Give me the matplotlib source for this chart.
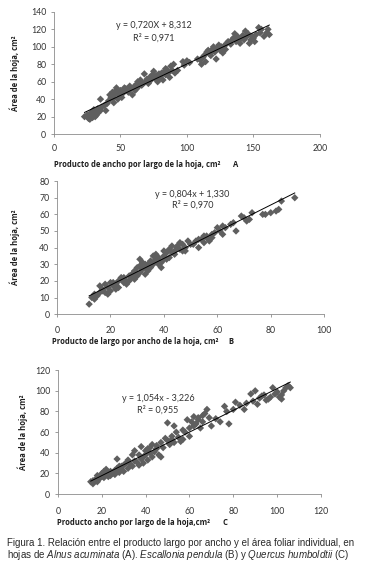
import matplotlib
matplotlib.use("Agg")
import matplotlib.pyplot as plt
import numpy as np

plt.rcParams['font.family'] = ['Lato', 'DejaVu Sans']
plt.rcParams['mathtext.fontset'] = 'custom'
plt.rcParams['mathtext.rm'] = 'Liberation Sans'
plt.rcParams['mathtext.it'] = 'Liberation Sans:italic'

# Panel A - Alnus acuminata
a_x = [23, 25, 26, 27, 28, 28, 29, 30, 30, 31, 32, 33, 33, 35, 35, 36, 38, 39, 40, 41,
       42, 43, 44, 45, 45, 46, 47, 48, 48, 50, 50, 51, 52, 53, 54, 55, 56, 57, 58, 59,
       60, 61, 62, 63, 64, 65, 66, 67, 68, 69, 70, 71, 72, 73, 74, 75, 76, 77, 78, 79,
       80, 81, 82, 83, 84, 85, 86, 87, 88, 89, 90, 91, 93, 97, 98, 100, 102, 108, 110, 111,
       112, 113, 114, 115, 116, 117, 118, 119, 120, 121, 122, 123, 124, 125, 126, 127, 128, 129, 130, 131,
       133, 135, 136, 137, 138, 139, 140, 141, 142, 143, 144, 145, 146, 147, 148, 149, 150, 151, 152, 154,
       155, 156, 158, 160, 161, 162, 29, 31, 44, 62, 79, 84, 118, 134]
a_y = [20, 22, 18, 17, 25, 21, 19, 23, 28, 26, 22, 24, 29, 27, 40, 31, 33, 27, 35, 38,
       45, 42, 48, 36, 44, 49, 53, 40, 46, 45, 50, 42, 47, 53, 52, 50, 48, 55, 52, 45,
       54, 50, 57, 60, 55, 62, 56, 58, 69, 60, 63, 58, 65, 62, 68, 72, 64, 67, 60, 69,
       66, 70, 62, 72, 68, 74, 70, 65, 78, 73, 80, 70, 73, 83, 79, 84, 82, 86, 85, 80,
       88, 90, 83, 94, 96, 92, 90, 97, 100, 94, 86, 98, 102, 96, 100, 93, 101, 97, 104, 106,
       103, 110, 115, 106, 112, 108, 104, 110, 113, 108, 118, 112, 115, 104, 108, 112, 110, 106, 114, 122,
       116, 120, 112, 116, 120, 114, 24, 20, 41, 52, 64, 75, 95, 108]
a_eq = "y = 0,720X + 8,312"
a_r2 = "R² = 0,971"
a_coef = (0.720, 8.312)

# Panel B - Escallonia pendula
b_x = [12, 13, 14, 14, 15, 16, 16, 17, 18, 18, 19, 19, 20, 20, 21, 22, 22, 23, 23, 24,
       25, 25, 26, 27, 27, 28, 28, 29, 29, 30, 30, 31, 31, 32, 32, 33, 33, 34, 34, 35,
       35, 36, 36, 37, 37, 38, 38, 39, 39, 40, 40, 41, 41, 42, 42, 43, 44, 44, 45, 46,
       46, 47, 48, 48, 49, 50, 52, 53, 54, 55, 55, 56, 57, 58, 59, 60, 61, 62, 62, 63,
       65, 66, 67, 69, 70, 71, 72, 73, 77, 78, 80, 82, 83, 84, 89, 17, 21, 24, 26, 29,
       31, 33, 36, 38, 40, 43, 45, 47, 51, 53, 56, 58]
b_y = [6, 10, 9, 12, 11, 13, 17, 15, 13, 18, 12, 16, 19, 14, 17, 18, 15, 20, 16, 22,
       19, 22, 18, 23, 20, 24, 22, 26, 21, 28, 23, 33, 25, 31, 27, 28, 24, 30, 26, 32,
       28, 35, 30, 33, 36, 30, 34, 31, 28, 35, 38, 33, 37, 39, 34, 41, 36, 38, 40, 43,
       39, 42, 40, 38, 44, 42, 44, 40, 45, 47, 43, 46, 44, 48, 49, 52, 50, 48, 53, 52,
       54, 55, 50, 59, 58, 56, 57, 61, 60, 60, 61, 62, 63, 68, 70, 14, 19, 21, 20, 24,
       29, 30, 31, 32, 33, 37, 41, 38, 42, 45, 47, 46]
b_eq = "y = 0,804x + 1,330"
b_r2 = "R² = 0,970"
b_coef = (0.804, 1.330)

# Panel C - Quercus humboldtii
c_x = [15, 16, 16, 17, 18, 18, 19, 20, 20, 21, 21, 22, 22, 23, 23, 24, 24, 25, 26, 26,
       27, 27, 28, 28, 29, 30, 30, 31, 32, 32, 33, 34, 35, 35, 36, 37, 37, 38, 38, 39,
       39, 40, 40, 41, 42, 42, 43, 43, 44, 45, 46, 47, 47, 48, 49, 50, 50, 51, 52, 53,
       53, 54, 55, 56, 57, 58, 59, 60, 60, 61, 62, 62, 63, 64, 65, 66, 66, 67, 68, 69,
       70, 72, 74, 76, 77, 78, 80, 81, 83, 85, 86, 88, 89, 90, 91, 92, 93, 94, 95, 96,
       97, 98, 99, 100, 101, 102, 103, 104, 105, 106, 19, 25, 29, 34, 41, 45, 52, 57, 64, 102]
c_y = [12, 10, 13, 14, 12, 18, 15, 17, 20, 16, 22, 19, 24, 17, 21, 22, 18, 20, 23, 19,
       34, 25, 21, 27, 24, 28, 22, 30, 25, 33, 29, 27, 42, 32, 31, 38, 28, 46, 34, 36,
       30, 42, 38, 33, 45, 40, 48, 36, 41, 44, 38, 36, 50, 45, 54, 69, 52, 48, 56, 66,
       50, 60, 55, 51, 53, 60, 72, 64, 56, 70, 75, 66, 68, 72, 64, 76, 70, 78, 82, 74,
       66, 73, 70, 85, 80, 68, 82, 89, 86, 82, 88, 97, 90, 100, 87, 93, 95, 96, 91, 92,
       94, 103, 97, 99, 94, 92, 100, 103, 105, 103, 16, 21, 27, 38, 44, 47, 53, 62, 74, 96]
c_eq = "y = 1,054x - 3,226"
c_r2 = "R² = 0,955"
c_coef = (1.054, -3.226)

fig = plt.figure(figsize=(3.91, 5.66), dpi=100)

panels = [
    dict(rect=[0.138, 0.763, 0.680, 0.216], x=a_x, y=a_y, coef=a_coef, eq=a_eq, r2=a_r2,
         xlim=(0, 200), xstep=50, ylim=(0, 140), ystep=20, eqpos=(0.376, 0.885, 0.787),
         ylab_x=0.038, xlab="Producto de ancho por largo de la hoja, cm²", letter="A",
         xlab_pos=(0.138, 0.710), letter_x=0.596, xpad=4.3),
    dict(rect=[0.146, 0.445, 0.683, 0.235], x=b_x, y=b_y, coef=b_coef, eq=b_eq, r2=b_r2,
         xlim=(0, 100), xstep=20, ylim=(0, 80), ystep=10, eqpos=(0.507, 0.90, 0.82),
         ylab_x=0.038, xlab="Producto de largo por ancho de la hoja, cm²", letter="B",
         xlab_pos=(0.133, 0.396), letter_x=0.585, xpad=5.8),
    dict(rect=[0.148, 0.127, 0.673, 0.219], x=c_x, y=c_y, coef=c_coef, eq=c_eq, r2=c_r2,
         xlim=(0, 120), xstep=20, ylim=(0, 120), ystep=20, eqpos=(0.38, 0.774, 0.677),
         ylab_x=0.058, xlab="Producto ancho por largo de la hoja,cm²", letter="C",
         xlab_pos=(0.146, 0.076), letter_x=0.568, xpad=7.0),
]

lab_font = dict(family='Open Sans', fontweight='bold', fontsize=5.5, color='#1e1e1e')

for p in panels:
    ax = fig.add_axes(p['rect'])
    ax.scatter(p['x'], p['y'], marker='D', s=14, color='#5f5f5f', edgecolors='none', zorder=2)
    xs = np.array([min(p['x']), max(p['x'])])
    m, b = p['coef']
    ax.plot(xs, m * xs + b, color='black', lw=0.7, zorder=3)
    ax.set_xlim(*p['xlim'])
    ax.set_ylim(*p['ylim'])
    ax.set_xticks(np.arange(p['xlim'][0], p['xlim'][1] + 1, p['xstep']))
    ax.set_yticks(np.arange(p['ylim'][0], p['ylim'][1] + 1, p['ystep']))
    for s in ['top', 'right']:
        ax.spines[s].set_visible(False)
    for s in ['left', 'bottom']:
        ax.spines[s].set_color('#8c8c8c')
        ax.spines[s].set_linewidth(0.6)
    ax.tick_params(labelsize=6.3, length=2.5, width=0.6, color='#8c8c8c',
                   labelcolor='#333333', pad=3)
    ax.tick_params(axis='x', pad=p['xpad'])
    ex, ey1, ey2 = p['eqpos']
    ax.text(ex, ey1, p['eq'], transform=ax.transAxes, ha='center', va='center',
            fontsize=6.5, color='#333333')
    ax.text(ex, ey2, p['r2'], transform=ax.transAxes, ha='center', va='center',
            fontsize=6.5, color='#333333')
    r = p['rect']
    fig.text(p['ylab_x'], r[1] + r[3] / 2, "Área de la hoja, cm²", rotation=90,
             ha='center', va='center', **lab_font)
    fig.text(p['xlab_pos'][0], p['xlab_pos'][1], p['xlab'], ha='left', va='center',
             **lab_font)
    fig.text(p['letter_x'], p['xlab_pos'][1], p['letter'], ha='left', va='center',
             **lab_font)

cap1 = "Figura 1. Relación entre el producto largo por ancho y el área foliar individual, en"
cap2 = (r"hojas de $\mathit{Alnus\ acuminata}$ (A). $\mathit{Escallonia\ pendula}$ (B) y "
        r"$\mathit{Quercus\ humboldtii}$ (C)")
fig.text(0.018, 0.041, cap1, ha='left', va='center', fontsize=7.0,
         family='Liberation Sans', color='#2a2a2a')
fig.text(0.018, 0.019, cap2, ha='left', va='center', fontsize=7.0,
         family='Liberation Sans', color='#2a2a2a')

fig.savefig("out.png", dpi=100)
